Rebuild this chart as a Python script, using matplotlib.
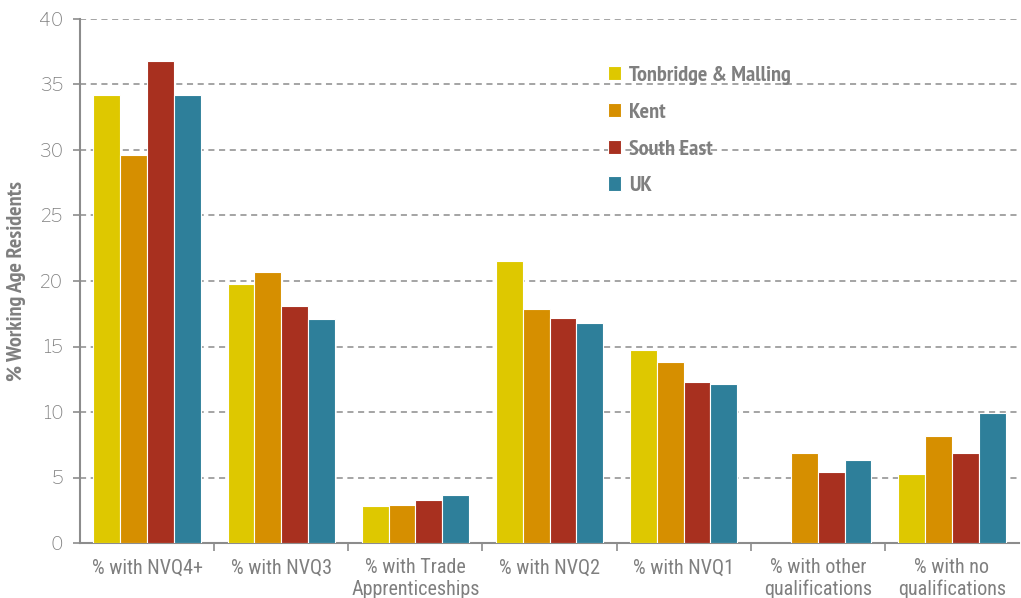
import matplotlib
matplotlib.use("Agg")
import matplotlib.pyplot as plt
import numpy as np

categories = ["% with NVQ4+", "% with NVQ3", "% with Trade\nApprenticeships",
              "% with NVQ2", "% with NVQ1", "% with other\nqualifications",
              "% with no\nqualifications"]
series_names = ["Tonbridge & Malling", "Kent", "South East", "UK"]
tonbridge = [34.2, 19.8, 2.8, 21.5, 14.7, np.nan, 5.3]
kent = [29.6, 20.7, 2.9, 17.9, 13.8, 6.9, 8.2]
south_east = [36.8, 18.1, 3.3, 17.2, 12.3, 5.4, 6.9]
uk = [34.2, 17.1, 3.7, 16.8, 12.1, 6.3, 9.9]
colors = ["#DEC800", "#D68F00", "#A8301F", "#2E7F9A"]

values = [tonbridge, kent, south_east, uk]

W, H = 1021, 598
fig = plt.figure(figsize=(W / 100, H / 100), dpi=100)
ax = fig.add_axes([80 / W, 1 - 543 / H, 939 / W, (543 - 19) / H])

x = np.arange(len(categories))
w = 0.2
for i, (name, vals, c) in enumerate(zip(series_names, values, colors)):
    ax.bar(x - 0.3 + i * w, vals, width=w, color=c, edgecolor="white",
           linewidth=0.8, label=name, zorder=3)

ax.set_xlim(-0.5, len(categories) - 0.5)
ax.set_ylim(0, 40)
ax.set_yticks(np.arange(0, 41, 5))
ax.yaxis.grid(True, linestyle=(0, (4, 3)), color="#8C8C8C", linewidth=1.1, zorder=0)
ax.set_axisbelow(True)

label_font = ["Roboto Condensed", "DejaVu Sans"]
bold_font = ["PT Sans Narrow", "DejaVu Sans"]
ax.set_xticks(x)
ax.set_xticklabels(categories, fontsize=14.5, color="#7F7F7F",
                   family=label_font, linespacing=1.17)
ax.set_xticks(np.arange(0.5, len(categories) - 0.5, 1), minor=True)
ax.tick_params(axis="x", which="major", length=0, pad=11)
ax.tick_params(axis="x", which="minor", length=6, color="#8C8C8C", width=1.2)
ax.tick_params(axis="y", length=5, color="#8C8C8C", width=1.2, labelsize=13.5,
               labelcolor="#7F7F7F", pad=7)
for lbl in ax.get_yticklabels():
    lbl.set_family(["Libre Franklin", "DejaVu Sans"])

for s in ["top", "right"]:
    ax.spines[s].set_visible(False)
for s in ["left", "bottom"]:
    ax.spines[s].set_color("#8C8C8C")
    ax.spines[s].set_linewidth(1.5)

ax.set_ylabel("% Working Age Residents", fontsize=16, color="#7F7F7F",
              fontweight="bold", family=bold_font, labelpad=9)

leg = fig.legend(loc="upper left", bbox_to_anchor=(588 / W, 1 - 46 / H),
                 frameon=False, handlelength=0.6, handleheight=0.6,
                 handletextpad=0.35, labelspacing=0.8,
                 prop={"family": bold_font, "weight": "bold", "size": 16})
for t in leg.get_texts():
    t.set_color("#7F7F7F")

fig.savefig("out.png", dpi=100)
